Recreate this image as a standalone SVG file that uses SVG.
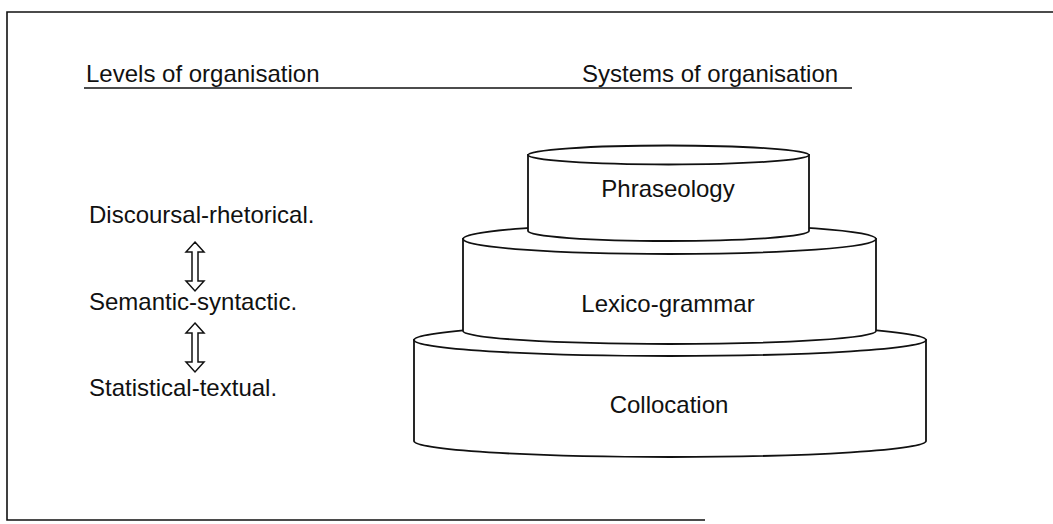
<svg xmlns="http://www.w3.org/2000/svg" width="1053" height="524" viewBox="0 0 1053 524">
<style>
text{font-family:"Liberation Sans",Arial,Helvetica,sans-serif;font-size:24px;fill:#111}
.ln{stroke:#111;stroke-width:1.6;fill:none}
.cyl{stroke:#111;stroke-width:1.8;fill:#fff}
.arr{stroke:#111;stroke-width:1.5;fill:#fff;stroke-linejoin:miter}
.mid{text-anchor:middle}
</style>
<rect width="1053" height="524" fill="#fff"/>
<g id="frame">
<path class="ln" d="M1053,12 L7,12 L7,520 L705,520"/>
</g>
<g id="headers">
<text x="86" y="82">Levels of organisation</text>
<text x="582" y="82">Systems of organisation</text>
<line class="ln" x1="84" y1="88" x2="852" y2="88"/>
</g>
<g id="level-discoursal"><text x="89" y="223">Discoursal-rhetorical.</text></g>
<g id="level-semantic"><text x="89" y="310">Semantic-syntactic.</text></g>
<g id="level-statistical"><text x="89" y="396">Statistical-textual.</text></g>
<g id="connectors">
<path class="arr" d="M195,242 L204,252 L198,252 L198,281 L204,281 L195,291 L186,281 L192,281 L192,252 L186,252 Z"/>
<path class="arr" d="M195,323 L204,333 L198,333 L198,362 L204,362 L195,372 L186,362 L192,362 L192,333 L186,333 Z"/>
</g>
<g id="collocation">
<path class="cyl" d="M414,340 L414,441 A256,16 0 0 0 926,441 L926,340 Z"/>
<ellipse class="cyl" cx="670" cy="340" rx="256" ry="16"/>
<text class="mid" x="669" y="413">Collocation</text>
</g>
<g id="lexico-grammar">
<path class="cyl" d="M463,239 L463,331 A206.5,13 0 0 0 876,331 L876,239 Z"/>
<ellipse class="cyl" cx="669.5" cy="239" rx="206.5" ry="15"/>
<text class="mid" x="668" y="312">Lexico-grammar</text>
</g>
<g id="phraseology">
<path class="cyl" d="M528,155 L528,231 A140.5,10 0 0 0 809,231 L809,155 Z"/>
<ellipse class="cyl" cx="668.5" cy="155" rx="140.5" ry="9.5"/>
<text class="mid" x="668" y="197">Phraseology</text>
</g>
</svg>
